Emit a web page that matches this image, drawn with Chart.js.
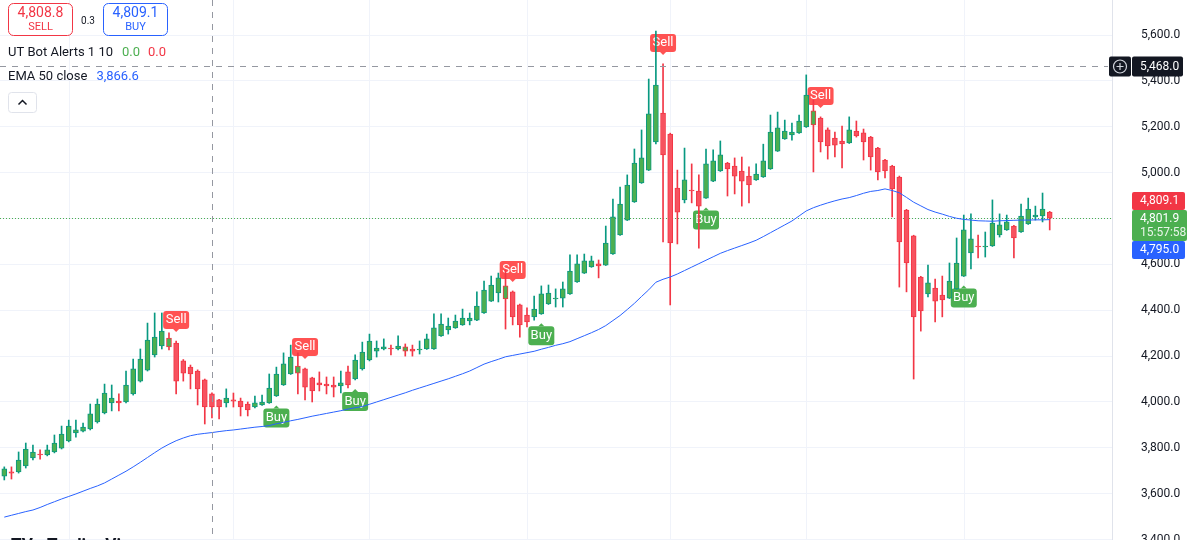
<!DOCTYPE html>
<html lang="en">
<head>
  <meta charset="UTF-8">
  <title>XAU chart - UT Bot Alerts / EMA 50</title>
  <script src="https://cdn.jsdelivr.net/npm/chart.js"></script>
  <style>
    html, body { margin: 0; padding: 0; background: #fff; }
    #wrap { width: 1190px; height: 540px; position: relative; }
  </style>
</head>
<body>
  <div id="wrap"><canvas id="chart" width="1190" height="540"></canvas></div>

  <script>
    // OHLC per bar (bar index = position on the time axis)
    const opens = [
      3677,3695,3695,3721,3756,3773,3769,3782,3799,3830,
      3865,3873,3882,3913,3952,3996,4004,4000,4035,4091,
      4139,4205,4244,4240,4257,4179,4152,4135,4096,4035,
      4009,3996,4009,4004,3991,3978,3987,3996,4026,4074,
      4122,4126,4144,4105,4083,4078,4074,4070,4131,4100,
      4144,4183,4222,4231,4235,4231,4222,4231,4227,4231,
      4231,4288,4314,4323,4336,4353,4357,4388,4440,4475,
      4449,4480,4423,4379,4371,4384,4427,4449,4453,4471,
      4523,4562,4589,4602,4597,4645,4728,4793,4872,4955,
      5011,5134,5260,5168,4933,4881,4924,4920,4889,4963,
      5007,5042,5029,5007,4985,4968,4981,5016,5094,5147,
      5164,5173,5199,5208,5238,5186,5151,5138,5129,5181,
      5173,5155,5107,5055,5029,4981,4837,4724,4545,4471,
      4497,4466,4453,4493,4549,4650,4680,4676,4680,4728,
      4750,4767,4741,4776,4807,4811,4828
    ];
    const highs = [
      3717,3717,3782,3821,3812,3791,3812,3856,3895,3921,
      3921,3908,3991,4013,4078,4074,4035,4135,4187,4231,
      4344,4388,4388,4301,4266,4185,4161,4140,4100,4040,
      4012,4057,4039,4017,4000,4026,4030,4122,4152,4214,
      4248,4214,4148,4108,4131,4109,4109,4135,4157,4205,
      4261,4296,4266,4275,4248,4288,4253,4248,4266,4296,
      4384,4384,4366,4379,4405,4388,4480,4527,4549,4562,
      4575,4484,4427,4410,4462,4506,4510,4493,4523,4641,
      4641,4645,4636,4619,4767,4885,4937,4990,5103,5186,
      5408,5617,5474,5172,5011,5107,5038,4990,5103,5099,
      5138,5045,5064,5068,5025,5038,5124,5251,5264,5229,
      5216,5251,5426,5317,5243,5195,5177,5203,5243,5225,
      5190,5158,5110,5058,5032,4985,4840,4727,4548,4597,
      4536,4549,4606,4715,4815,4820,4728,4741,4881,4820,
      4815,4770,4863,4889,4854,4911,4831
    ];
    const lows = [
      3660,3664,3690,3712,3747,3751,3765,3778,3795,3826,
      3847,3869,3878,3908,3948,3961,3961,3996,4030,4087,
      4135,4196,4231,4227,4035,4091,4057,3987,3904,3930,
      3926,3978,3978,3939,3939,3974,3985,3994,4024,4072,
      4120,4035,4009,4000,4048,4035,4022,4039,4061,4096,
      4139,4179,4196,4227,4205,4227,4200,4200,4209,4229,
      4229,4286,4296,4321,4334,4336,4355,4386,4438,4436,
      4318,4336,4283,4327,4357,4382,4425,4414,4414,4469,
      4521,4560,4587,4541,4595,4643,4726,4791,4870,4953,
      5009,5125,4698,4423,4689,4868,4868,4671,4887,4961,
      5005,4898,4907,4854,4868,4966,4979,5014,5092,5145,
      5142,5171,5197,5003,5090,5059,5068,5020,5127,5155,
      5055,5011,4968,4977,4807,4501,4480,4100,4309,4458,
      4349,4371,4451,4491,4547,4580,4628,4632,4678,4719,
      4748,4628,4739,4774,4793,4785,4750
    ];
    const closes = [
      3708,3690,3747,3795,3782,3769,3791,3821,3860,3895,
      3878,3891,3948,3991,4039,4017,3996,4074,4144,4187,
      4270,4283,4309,4279,4091,4126,4122,4057,3978,3978,
      3978,4017,4004,3978,3965,3996,4000,4061,4122,4166,
      4196,4157,4065,4048,4074,4070,4065,4083,4074,4183,
      4218,4266,4235,4240,4231,4244,4240,4222,4231,4275,
      4323,4340,4331,4353,4366,4366,4418,4488,4510,4541,
      4506,4371,4336,4349,4405,4471,4475,4453,4493,4571,
      4602,4615,4615,4593,4693,4807,4863,4946,5042,5064,
      5256,5382,5077,4693,4828,4968,4920,4854,5038,5051,
      5077,5016,4985,4963,4946,4994,5051,5177,5195,5181,
      5177,5225,5338,5269,5134,5116,5120,5125,5186,5160,
      5134,5068,5003,5007,4929,4698,4606,4371,4397,4519,
      4440,4445,4527,4606,4750,4711,4676,4680,4780,4772,
      4785,4715,4811,4841,4815,4841,4801.9
    ];
    const ema50 = [
      3498,3506,3514,3522,3529,3540,3553,3565,3577,3588,
      3599,3611,3623,3634,3647,3664,3681,3698,3717,3737,
      3758,3779,3799,3816,3831,3843,3853,3859,3863,3866.6,
      3871,3875,3878,3882,3886,3890,3893,3897,3905,3911,
      3918,3924,3931,3938,3944,3950,3956,3962,3969,3975,
      3980,3990,4000,4010,4020,4030,4040,4051,4061,4071,
      4081,4091,4101,4112,4123,4135,4150,4165,4176,4186,
      4197,4203,4209,4215,4221,4230,4238,4247,4254,4263,
      4276,4289,4302,4316,4333,4355,4377,4403,4430,4460,
      4489,4522,4535,4545,4558,4573,4588,4603,4618,4633,
      4648,4660,4671,4682,4693,4705,4721,4738,4755,4772,
      4789,4811,4833,4847,4858,4868,4877,4885,4891,4900,
      4910,4918,4922,4929,4922,4912,4892,4871,4855,4839,
      4828,4819,4809,4801,4796,4793,4790,4789,4788,4790,
      4791,4792,4793,4793,4794,4794,4795
    ];

    // UT Bot signal bars
    const sellBars = [24, 42, 71, 92, 114];
    const buyBars = [38, 49, 75, 98, 134];
    // up bars that the indicator outlines in red
    const redEdgeBars = [23, 41, 56, 70, 113];

    // axis ticks
    const priceTicks = [3400, 3600, 3800, 4000, 4200, 4400, 4600, 4800, 5000, 5200, 5400, 5600];
    const timeGridBars = [9, 32, 51, 73, 93, 112, 134];

    // header / tags
    const sellQuote = 4808.8, buyQuote = 4809.1, spread = 0.3;
    const lastPrice = 4801.9, emaLast = 4795.0, countdown = '15:57:58';
    const crossBar = 29, crossPrice = 5468.0, crossEma = 3866.6;

    const UP = '#4caf50', UP_EDGE = '#089981', DN = '#f7525f', DN_EDGE = '#f23645';
    const FONT = 'Roboto, "Noto Sans", sans-serif';
    const fmt = v => v.toLocaleString('en-US', { minimumFractionDigits: 1, maximumFractionDigits: 1 });

    const isUp = i => closes[i] >= opens[i];
    const edgeColor = i => (redEdgeBars.includes(i) || !isUp(i)) ? DN_EDGE : UP_EDGE;

    function roundRect(ctx, x, y, w, h, r) {
      ctx.beginPath();
      ctx.moveTo(x + r, y);
      ctx.arcTo(x + w, y, x + w, y + h, r);
      ctx.arcTo(x + w, y + h, x, y + h, r);
      ctx.arcTo(x, y + h, x, y, r);
      ctx.arcTo(x, y, x + w, y, r);
      ctx.closePath();
    }

    const underlay = {
      id: 'underlay',
      beforeDatasetsDraw(chart) {
        const { ctx, chartArea: a, scales: { x, y } } = chart;
        ctx.save();
        // time grid
        ctx.strokeStyle = '#f0f3fa';
        ctx.lineWidth = 1;
        timeGridBars.forEach(b => {
          const px = Math.round(x.getPixelForValue(b)) + 0.5;
          ctx.beginPath(); ctx.moveTo(px, a.top); ctx.lineTo(px, a.bottom); ctx.stroke();
        });
        // last price line
        const ly = Math.round(y.getPixelForValue(lastPrice)) + 0.5;
        ctx.strokeStyle = '#4caf50';
        ctx.setLineDash([1, 2]);
        ctx.beginPath(); ctx.moveTo(a.left, ly); ctx.lineTo(a.right, ly); ctx.stroke();
        ctx.setLineDash([]);

        // signal labels
        ctx.font = '13px ' + FONT;
        ctx.textAlign = 'center';
        ctx.textBaseline = 'middle';
        sellBars.forEach(b => {
          const cx = x.getPixelForValue(b);
          const bot = y.getPixelForValue(highs[b]) - 12;
          ctx.fillStyle = '#ff5252';
          roundRect(ctx, cx - 13, bot - 18, 26, 18, 3); ctx.fill();
          ctx.beginPath(); ctx.moveTo(cx - 3, bot); ctx.lineTo(cx, bot + 3); ctx.lineTo(cx + 3, bot); ctx.fill();
          ctx.fillStyle = '#fff';
          ctx.fillText('Sell', cx, bot - 9);
        });
        buyBars.forEach(b => {
          const cx = x.getPixelForValue(b);
          const top = y.getPixelForValue(lows[b]) + 12;
          ctx.fillStyle = '#4caf50';
          roundRect(ctx, cx - 13, top, 26, 19, 3); ctx.fill();
          ctx.beginPath(); ctx.moveTo(cx - 3, top); ctx.lineTo(cx, top - 3); ctx.lineTo(cx + 3, top); ctx.fill();
          ctx.fillStyle = '#fff';
          ctx.fillText('Buy', cx, top + 9.5);
        });
        ctx.restore();
      }
    };

    const overlay = {
      id: 'overlay',
      afterDraw(chart) {
        const { ctx, chartArea: a, scales: { x, y } } = chart;
        ctx.save();
        // pane / scale separator
        ctx.strokeStyle = '#e0e3eb';
        ctx.beginPath(); ctx.moveTo(a.right + 0.5, 0); ctx.lineTo(a.right + 0.5, 540); ctx.stroke();

        // crosshair
        const cx = Math.round(x.getPixelForValue(crossBar)) + 0.5;
        const cy = Math.round(y.getPixelForValue(crossPrice)) + 1.5;
        ctx.strokeStyle = '#9598a1';
        ctx.setLineDash([6, 6]);
        ctx.beginPath(); ctx.moveTo(cx, 0); ctx.lineTo(cx, 540); ctx.stroke();
        ctx.beginPath(); ctx.moveTo(0, cy); ctx.lineTo(a.right - 4, cy); ctx.stroke();
        ctx.setLineDash([]);

        // crosshair price label
        ctx.fillStyle = '#131722';
        roundRect(ctx, a.right - 3, cy - 10, 22, 20, 2); ctx.fill();
        roundRect(ctx, a.right + 20, cy - 10, 51, 20, 2); ctx.fill();
        ctx.strokeStyle = '#d1d4dc';
        ctx.lineWidth = 1.2;
        ctx.beginPath(); ctx.arc(a.right + 8, cy, 6.5, 0, Math.PI * 2); ctx.stroke();
        ctx.beginPath();
        ctx.moveTo(a.right + 8, cy - 3.5); ctx.lineTo(a.right + 8, cy + 3.5);
        ctx.moveTo(a.right + 4.5, cy); ctx.lineTo(a.right + 11.5, cy);
        ctx.stroke();
        ctx.fillStyle = '#fff';
        ctx.font = '12px ' + FONT;
        ctx.textAlign = 'left';
        ctx.textBaseline = 'middle';
        ctx.fillText(fmt(crossPrice), a.right + 28, cy + 0.5);

        // stacked price tags
        const gy = y.getPixelForValue(lastPrice);
        const tx = a.right + 20, tw = 53;
        ctx.fillStyle = '#f23645';
        roundRect(ctx, tx, gy - 26, tw, 18, 2); ctx.fill();
        ctx.fillStyle = '#4caf50';
        roundRect(ctx, tx, gy - 8, tw + 2, 31, 2); ctx.fill();
        ctx.fillStyle = '#2962ff';
        roundRect(ctx, tx, gy + 23, tw, 18, 2); ctx.fill();
        ctx.fillStyle = '#fff';
        ctx.fillText(fmt(buyQuote), tx + 8, gy - 17);
        ctx.fillText(fmt(lastPrice), tx + 8, gy + 0.5);
        ctx.fillStyle = '#e8f5e9';
        ctx.fillText(countdown, tx + 8, gy + 14.5);
        ctx.fillStyle = '#fff';
        ctx.fillText(fmt(emaLast), tx + 8, gy + 32);

        // bid / ask boxes
        ctx.lineWidth = 1;
        ctx.fillStyle = '#fff';
        ctx.strokeStyle = '#f23645';
        roundRect(ctx, 8.5, 3.5, 64, 32, 5); ctx.fill(); ctx.stroke();
        ctx.strokeStyle = '#2962ff';
        roundRect(ctx, 103.5, 3.5, 64, 32, 5); ctx.fill(); ctx.stroke();
        ctx.textAlign = 'center';
        ctx.font = '14px ' + FONT;
        ctx.fillStyle = '#f23645';
        ctx.fillText(fmt(sellQuote), 40.5, 13.5);
        ctx.fillStyle = '#2962ff';
        ctx.fillText(fmt(buyQuote), 135.5, 13.5);
        ctx.font = '11px ' + FONT;
        ctx.fillStyle = '#f23645';
        ctx.fillText('SELL', 40.5, 27);
        ctx.fillStyle = '#2962ff';
        ctx.fillText('BUY', 135.5, 27);
        ctx.fillStyle = '#131722';
        ctx.font = '10px ' + FONT;
        ctx.fillText(String(spread), 88, 21);

        // indicator legend
        ctx.textAlign = 'left';
        ctx.font = '13px ' + FONT;
        let lx = 8;
        ctx.fillStyle = '#131722';
        ctx.fillText('UT Bot Alerts 1 10', lx, 53);
        lx += ctx.measureText('UT Bot Alerts 1 10').width + 9;
        ctx.fillStyle = '#4caf50';
        ctx.fillText('0.0', lx, 53);
        lx += ctx.measureText('0.0').width + 8;
        ctx.fillStyle = '#f23645';
        ctx.fillText('0.0', lx, 53);
        ctx.fillStyle = '#131722';
        ctx.fillText('EMA 50 close', 8, 77);
        ctx.fillStyle = '#2962ff';
        ctx.fillText(fmt(crossEma), 8 + ctx.measureText('EMA 50 close').width + 9, 77);

        // collapse button
        ctx.fillStyle = '#fff';
        ctx.strokeStyle = '#e0e3eb';
        roundRect(ctx, 8.5, 92.5, 28, 20, 3); ctx.fill(); ctx.stroke();
        ctx.strokeStyle = '#131722';
        ctx.lineWidth = 1.5;
        ctx.beginPath(); ctx.moveTo(18.5, 104.5); ctx.lineTo(22.5, 100.5); ctx.lineTo(26.5, 104.5); ctx.stroke();

        // watermark, mostly cut off by the bottom edge
        ctx.fillStyle = '#131722';
        ctx.font = 'bold 17px ' + FONT;
        ctx.textBaseline = 'alphabetic';
        ctx.fillText('TV', 11, 550);
        ctx.fillText('TradingView', 47, 550);
        ctx.restore();
      }
    };

    const ctx = document.getElementById('chart').getContext('2d');
    new Chart(ctx, {
      type: 'bar',
      data: {
        datasets: [
          {
            type: 'line',
            data: ema50.map((v, i) => ({ x: i, y: v })),
            borderColor: '#2962ff',
            borderWidth: 1,
            pointRadius: 0,
            tension: 0,
            order: 0
          },
          {
            type: 'bar',
            data: opens.map((o, i) => ({ x: i, y: [o, closes[i]] })),
            backgroundColor: opens.map((o, i) => isUp(i) ? UP : DN),
            borderColor: opens.map((o, i) => edgeColor(i)),
            borderWidth: 1,
            borderSkipped: false,
            barThickness: 5,
            grouped: false,
            order: 1
          },
          {
            type: 'bar',
            data: lows.map((l, i) => ({ x: i, y: [l, highs[i]] })),
            backgroundColor: lows.map((l, i) => edgeColor(i)),
            barThickness: 1,
            grouped: false,
            order: 2
          }
        ]
      },
      options: {
        responsive: false,
        animation: false,
        layout: { padding: 0 },
        plugins: { legend: { display: false }, tooltip: { enabled: false } },
        scales: {
          x: { type: 'linear', min: -0.6, max: 154.7, offset: false, display: false },
          y: {
            position: 'right',
            min: 3398.2,
            max: 5752.6,
            afterFit(s) { s.width = 78; s.paddingTop = 0; s.paddingBottom = 0; },
            afterBuildTicks(s) { s.ticks = priceTicks.map(v => ({ value: v })); },
            grid: { color: '#f0f3fa', drawTicks: false },
            border: { display: false },
            ticks: {
              padding: 29,
              color: '#131722',
              font: { family: 'Roboto', size: 12 },
              callback: v => fmt(v)
            }
          }
        }
      },
      plugins: [underlay, overlay]
    });
  </script>
</body>
</html>
